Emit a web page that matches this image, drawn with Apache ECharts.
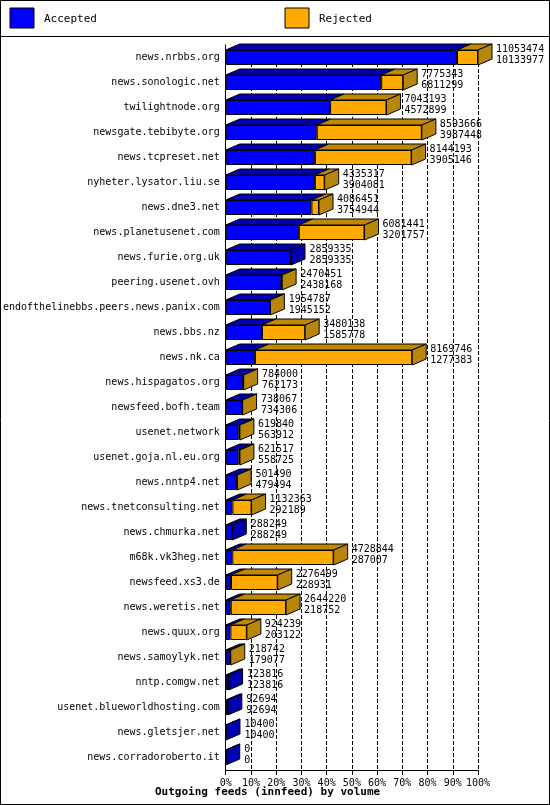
<!DOCTYPE html>
<html><head><meta charset="utf-8">
<script src="https://cdn.jsdelivr.net/npm/echarts@6/dist/echarts.min.js"></script>
<style>html,body{margin:0;padding:0;background:#fff}#c{width:550px;height:805px}</style>
</head><body><div id="c"></div>
<script>
const categories=["news.nrbbs.org","news.sonologic.net","twilightnode.org","newsgate.tebibyte.org","news.tcpreset.net","nyheter.lysator.liu.se","news.dne3.net","news.planetusenet.com","news.furie.org.uk","peering.usenet.ovh","endofthelinebbs.peers.news.panix.com","news.bbs.nz","news.nk.ca","news.hispagatos.org","newsfeed.bofh.team","usenet.network","usenet.goja.nl.eu.org","news.nntp4.net","news.tnetconsulting.net","news.chmurka.net","m68k.vk3heg.net","newsfeed.xs3.de","news.weretis.net","news.quux.org","news.samoylyk.net","nntp.comgw.net","usenet.blueworldhosting.com","news.gletsjer.net","news.corradoroberto.it"];
const offered=[11053474,7775343,7043193,8593666,8144193,4335317,4086451,6081441,2859335,2470451,1954787,3480138,8169746,784000,738067,619840,621517,501490,1132363,288249,4728844,2276499,2644220,924239,218742,123816,92694,10400,0];
const accepted=[10133977,6811299,4572899,3987448,3905146,3904081,3754944,3201757,2859335,2438168,1945152,1585778,1277383,762173,734306,563912,558725,479494,292189,288249,287007,228931,218752,203122,179077,123816,92694,10400,0];
const rejected=offered.map((o,i)=>o-accepted[i]);
const maxV=Math.max(...offered);
const font="DejaVu Sans Mono";
const DX=14, DY=6, BH=15;
const chart=echarts.init(document.getElementById('c'));
chart.setOption({
  animation:false,
  textStyle:{fontFamily:font},
  graphic:[
    {type:'rect',shape:{x:0.5,y:0.5,width:549,height:36},style:{fill:'#fff',stroke:'#000',lineWidth:1}},
    {type:'rect',shape:{x:0.5,y:36.5,width:549,height:768},style:{fill:'none',stroke:'#000',lineWidth:1}},
    {type:'rect',shape:{x:10,y:8,width:24,height:20},style:{fill:'#0000ff',stroke:'#000'}},
    {type:'text',left:44,top:14,style:{text:'Accepted',font:'11px DejaVu Sans Mono',fill:'#000'}},
    {type:'rect',shape:{x:285,y:8,width:24,height:20},style:{fill:'#ffaa00',stroke:'#000'}},
    {type:'text',left:319,top:14,style:{text:'Rejected',font:'11px DejaVu Sans Mono',fill:'#000'}},
    {type:'text',left:155,top:787,style:{text:'Outgoing feeds (innfeed) by volume',font:'bold 11px DejaVu Sans Mono',fill:'#000'}}
  ],
  grid:{left:225,right:72,top:45,bottom:35},
  xAxis:{type:'value',min:0,max:maxV,interval:maxV/10,
    axisLine:{show:true,lineStyle:{color:'#000'}},axisTick:{show:true,lineStyle:{color:'#000'}},
    axisLabel:{color:'#000',fontSize:10,fontFamily:font,formatter:v=>Math.round(v/maxV*100)+'%'},
    splitLine:{show:true,lineStyle:{color:'#000',type:'dashed'}}},
  yAxis:{type:'category',data:categories,inverse:true,
    axisLine:{lineStyle:{color:'#000'}},axisTick:{show:false},
    axisLabel:{color:'#000',fontSize:10,fontFamily:font,margin:6}},
  series:[
    {type:'custom',z:1,data:categories.map((c,i)=>[accepted[i],offered[i],i]),
     encode:{x:[0,1],y:2},
     renderItem:(params,api)=>{
       const i=api.value(2);
       const p0=api.coord([0,i]), pa=api.coord([api.value(0),i]), po=api.coord([api.value(1),i]);
       const top=p0[1]-BH/2;
       const st={stroke:'#000',lineWidth:1};
       const ch=[];
       ch.push({type:'polygon',shape:{points:[[p0[0],top],[pa[0],top],[pa[0]+DX,top-DY],[p0[0]+DX,top-DY]]},style:Object.assign({fill:'#0000b0'},st)});
       if(po[0]>pa[0]) ch.push({type:'polygon',shape:{points:[[pa[0],top],[po[0],top],[po[0]+DX,top-DY],[pa[0]+DX,top-DY]]},style:Object.assign({fill:'#c08a00'},st)});
       const sideFill=po[0]>pa[0]?'#b8860b':'#0000b0';
       ch.push({type:'polygon',shape:{points:[[po[0],top],[po[0]+DX,top-DY],[po[0]+DX,top-DY+BH],[po[0],top+BH]]},style:Object.assign({fill:sideFill},st)});
       return {type:'group',children:ch};
     }},
    {name:'Accepted',type:'bar',stack:'a',data:accepted,barWidth:BH,z:2,
     itemStyle:{color:'#0000ff',borderColor:'#000',borderWidth:1}},
    {name:'Rejected',type:'bar',stack:'a',data:rejected,barWidth:BH,z:2,
     itemStyle:{color:'#ffaa00',borderColor:'#000',borderWidth:1},
     label:{show:true,position:'right',distance:DX+4,offset:[0,-3],color:'#000',fontSize:10,fontFamily:font,lineHeight:11,
       formatter:p=>offered[p.dataIndex]+'\n'+accepted[p.dataIndex]}}
  ]
});
</script></body></html>
